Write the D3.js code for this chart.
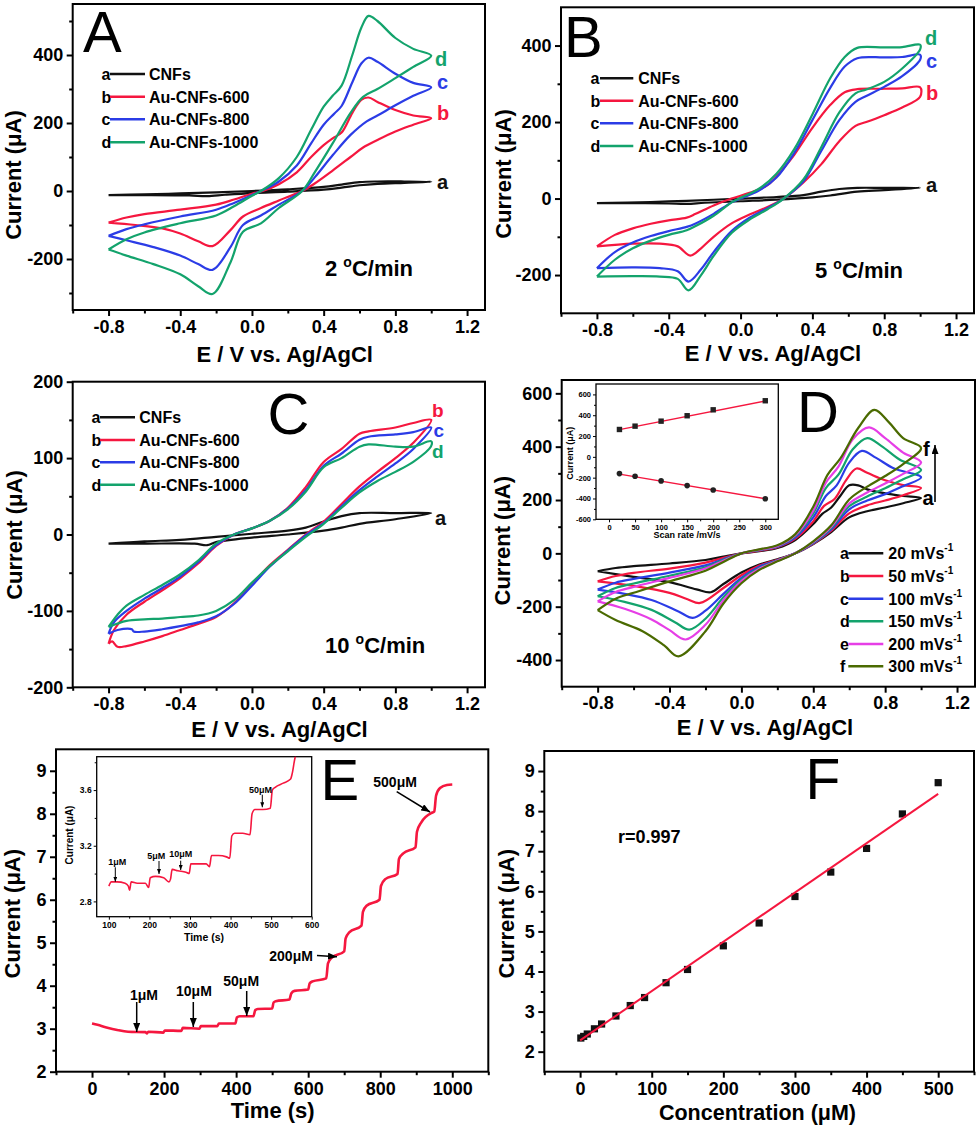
<!DOCTYPE html>
<html><head><meta charset="utf-8">
<script src="https://cdn.jsdelivr.net/npm/d3@7"></script>
<style>body{margin:0;background:#fff}svg{display:block}text{font-family:"Liberation Sans",Arial,sans-serif}</style>
</head><body><svg id="c" width="979" height="1129"></svg>
<script>
// ---------- DATA ----------
const cvLabels = ["a","b","c","d"];
const cvNames = ["CNFs","Au-CNFs-600","Au-CNFs-800","Au-CNFs-1000"];
const cvRates = ["2","5","10"];
const xTicksCV = [-0.8,-0.4,0.0,0.4,0.8,1.2];
const xMinorCV = [-1.0,-0.6,-0.2,0.2,0.6,1.0];

// Panel A (2 °C/min): [E, I] loops, forward then reverse
const cvA_CNFs = [[-0.8,-12],[-0.6,-10],[-0.4,-7],[-0.2,-4],[0,0],[0.2,5],[0.4,12],[0.5,19],[0.6,26],[0.7,28],[0.85,28],[1.0,27],[0.85,24],[0.7,21],[0.6,17],[0.5,10],[0.4,4],[0.2,-2],[0,-6],[-0.15,-11],[-0.25,-15],[-0.35,-13],[-0.6,-12],[-0.8,-12]];
const cvA_600 = [[-0.8,-93],[-0.7,-78],[-0.6,-68],[-0.4,-55],[-0.2,-40],[-0.1,-25],[0,-8],[0.06,0],[0.15,20],[0.25,55],[0.33,100],[0.4,135],[0.45,155],[0.5,172],[0.56,230],[0.61,268],[0.65,275],[0.7,262],[0.8,238],[0.9,222],[1.0,214],[0.9,195],[0.8,175],[0.7,150],[0.62,128],[0.55,100],[0.45,60],[0.35,22],[0.28,0],[0.15,-28],[0.05,-50],[-0.05,-75],[-0.12,-115],[-0.22,-162],[-0.3,-148],[-0.4,-125],[-0.5,-110],[-0.65,-100],[-0.8,-93]];
const cvA_800 = [[-0.8,-132],[-0.7,-112],[-0.6,-98],[-0.4,-75],[-0.2,-55],[-0.1,-35],[0,-12],[0.05,0],[0.15,28],[0.25,75],[0.33,140],[0.4,195],[0.46,228],[0.5,250],[0.56,320],[0.61,375],[0.65,392],[0.7,380],[0.8,345],[0.9,318],[1.0,305],[0.9,280],[0.8,252],[0.7,222],[0.64,205],[0.55,165],[0.45,105],[0.35,40],[0.28,0],[0.15,-40],[0.05,-72],[-0.05,-100],[-0.12,-165],[-0.22,-232],[-0.3,-215],[-0.4,-190],[-0.55,-165],[-0.7,-145],[-0.8,-132]];
const cvA_1000 = [[-0.8,-172],[-0.7,-142],[-0.6,-122],[-0.4,-95],[-0.2,-72],[-0.1,-45],[0,-14],[0.05,0],[0.15,38],[0.25,100],[0.33,180],[0.4,248],[0.45,280],[0.5,310],[0.56,400],[0.61,480],[0.65,515],[0.7,500],[0.8,450],[0.9,418],[1.0,398],[0.9,365],[0.8,332],[0.7,300],[0.62,277],[0.55,230],[0.45,140],[0.35,55],[0.28,0],[0.15,-50],[0.05,-95],[-0.05,-120],[-0.12,-210],[-0.22,-303],[-0.3,-280],[-0.4,-245],[-0.55,-215],[-0.7,-190],[-0.8,-172]];

// Panel B (5 °C/min)
const cvB_CNFs = [[-0.8,-12],[-0.5,-9],[-0.3,-6],[0,0],[0.2,4],[0.35,9],[0.45,18],[0.55,25],[0.65,28],[0.8,28],[1.0,28],[0.8,22],[0.65,18],[0.5,8],[0.4,3],[0.2,-3],[0,-7],[-0.2,-11],[-0.3,-14],[-0.4,-13],[-0.6,-12],[-0.8,-12]];
const cvB_600 = [[-0.8,-125],[-0.7,-95],[-0.6,-78],[-0.5,-66],[-0.4,-57],[-0.3,-50],[-0.25,-40],[-0.15,-18],[-0.05,0],[0.05,15],[0.15,35],[0.25,85],[0.3,115],[0.4,185],[0.5,245],[0.58,278],[0.65,286],[0.8,287],[0.9,288],[1.0,291],[1.0,266],[0.9,238],[0.8,218],[0.7,200],[0.64,190],[0.55,150],[0.45,90],[0.35,42],[0.24,0],[0.15,-22],[0.05,-42],[-0.05,-65],[-0.15,-100],[-0.22,-130],[-0.28,-149],[-0.35,-125],[-0.45,-118],[-0.6,-118],[-0.8,-125]];
const cvB_800 = [[-0.8,-182],[-0.7,-140],[-0.6,-115],[-0.5,-98],[-0.4,-85],[-0.3,-74],[-0.25,-65],[-0.15,-40],[-0.05,-10],[0,0],[0.1,20],[0.2,55],[0.3,120],[0.4,205],[0.5,290],[0.58,345],[0.65,367],[0.8,369],[0.9,370],[1.0,376],[1.0,363],[0.9,320],[0.8,292],[0.7,268],[0.64,253],[0.55,205],[0.45,125],[0.35,45],[0.24,0],[0.15,-25],[0.05,-50],[-0.05,-85],[-0.15,-140],[-0.22,-185],[-0.29,-217],[-0.35,-190],[-0.45,-182],[-0.6,-180],[-0.8,-182]];
const cvB_1000 = [[-0.8,-204],[-0.7,-160],[-0.6,-130],[-0.5,-110],[-0.4,-95],[-0.3,-83],[-0.25,-72],[-0.15,-45],[-0.05,-10],[0,2],[0.1,25],[0.2,65],[0.3,130],[0.4,220],[0.5,315],[0.58,370],[0.65,394],[0.8,395],[0.9,396],[1.0,402],[1.0,390],[0.9,340],[0.8,305],[0.7,285],[0.64,275],[0.55,225],[0.45,135],[0.35,50],[0.24,0],[0.15,-28],[0.05,-55],[-0.05,-90],[-0.15,-150],[-0.22,-200],[-0.29,-240],[-0.35,-210],[-0.45,-204],[-0.6,-203],[-0.8,-204]];

// Panel C (10 °C/min)
const cvC_CNFs = [[-0.8,-12],[-0.6,-9],[-0.4,-7],[-0.2,-3],[0,1],[0.2,5],[0.3,9],[0.4,17],[0.5,24],[0.6,28],[0.8,28],[1.0,28],[0.8,20],[0.6,14],[0.5,9],[0.4,5],[0.2,0],[0,-4],[-0.2,-10],[-0.25,-14],[-0.32,-12],[-0.6,-12],[-0.8,-12]];
const cvC_600 = [[-0.8,-143],[-0.77,-125],[-0.7,-105],[-0.6,-88],[-0.5,-73],[-0.4,-57],[-0.3,-38],[-0.2,-15],[-0.1,0],[0,8],[0.1,18],[0.2,35],[0.3,62],[0.4,95],[0.5,112],[0.6,132],[0.65,135],[0.8,140],[0.9,146],[1.0,150],[0.9,120],[0.8,100],[0.7,82],[0.6,63],[0.5,40],[0.4,17],[0.3,0],[0.2,-20],[0.1,-40],[0,-65],[-0.1,-90],[-0.2,-108],[-0.3,-117],[-0.4,-125],[-0.5,-133],[-0.6,-140],[-0.7,-146],[-0.75,-147],[-0.78,-140],[-0.8,-143]];
const cvC_800 = [[-0.8,-130],[-0.77,-115],[-0.7,-100],[-0.6,-84],[-0.5,-70],[-0.4,-55],[-0.3,-36],[-0.2,-14],[-0.1,0],[0,8],[0.1,18],[0.2,34],[0.3,58],[0.4,90],[0.5,106],[0.6,124],[0.65,128],[0.8,131],[0.9,134],[1.0,140],[0.9,112],[0.8,93],[0.7,76],[0.6,58],[0.5,37],[0.4,15],[0.3,-1],[0.2,-21],[0.1,-42],[0,-67],[-0.1,-91],[-0.2,-107],[-0.3,-115],[-0.4,-120],[-0.5,-124],[-0.6,-127],[-0.66,-127],[-0.67,-124],[-0.75,-125],[-0.8,-130]];
const cvC_1000 = [[-0.8,-121],[-0.75,-105],[-0.7,-93],[-0.6,-79],[-0.5,-66],[-0.4,-52],[-0.3,-34],[-0.2,-12],[-0.1,0],[0,8],[0.1,18],[0.2,33],[0.3,56],[0.4,88],[0.5,100],[0.6,115],[0.65,118],[0.8,115],[0.9,115],[1.0,122],[1.0,116],[0.9,95],[0.8,82],[0.7,70],[0.6,55],[0.5,35],[0.4,14],[0.3,-3],[0.2,-22],[0.1,-41],[0,-63],[-0.1,-86],[-0.2,-100],[-0.3,-106],[-0.4,-108],[-0.5,-110],[-0.6,-111],[-0.7,-113],[-0.8,-121]];

// Panel D (scan rates)
const dLabels = ["a","b","c","d","e","f"];
const dRates = ["20","50","100","150","200","300"];
const cvD_20 = [[-0.8,-67],[-0.7,-55],[-0.6,-48],[-0.4,-38],[-0.2,-25],[-0.1,-12],[0,0],[0.1,8],[0.2,20],[0.3,50],[0.4,110],[0.45,148],[0.5,172],[0.55,215],[0.6,255],[0.65,255],[0.7,240],[0.8,225],[0.9,215],[1.0,207],[0.9,188],[0.8,172],[0.7,158],[0.6,135],[0.5,80],[0.4,35],[0.3,0],[0.2,-22],[0.1,-42],[0,-72],[-0.1,-115],[-0.17,-146],[-0.25,-135],[-0.4,-108],[-0.6,-88],[-0.8,-67]];
const cvD_50 = [[-0.8,-105],[-0.7,-85],[-0.6,-73],[-0.4,-57],[-0.2,-35],[-0.1,-17],[0,0],[0.1,10],[0.2,23],[0.3,55],[0.4,120],[0.46,178],[0.52,205],[0.58,272],[0.64,318],[0.7,302],[0.8,274],[0.9,256],[1.0,245],[0.9,218],[0.8,198],[0.7,180],[0.6,150],[0.5,85],[0.4,36],[0.3,0],[0.2,-24],[0.1,-46],[0,-82],[-0.1,-130],[-0.23,-186],[-0.3,-172],[-0.4,-148],[-0.6,-122],[-0.8,-105]];
const cvD_100 = [[-0.8,-136],[-0.7,-110],[-0.6,-96],[-0.4,-72],[-0.2,-45],[-0.1,-22],[0,0],[0.1,12],[0.2,25],[0.3,60],[0.4,135],[0.47,215],[0.53,255],[0.6,340],[0.67,384],[0.75,358],[0.85,318],[1.0,285],[0.9,252],[0.8,222],[0.7,198],[0.6,165],[0.5,90],[0.4,38],[0.3,0],[0.2,-26],[0.1,-50],[0,-92],[-0.1,-152],[-0.2,-215],[-0.27,-242],[-0.35,-218],[-0.5,-175],[-0.65,-152],[-0.8,-136]];
const cvD_150 = [[-0.8,-161],[-0.7,-130],[-0.6,-113],[-0.4,-84],[-0.2,-52],[-0.1,-25],[0,0],[0.1,13],[0.2,27],[0.3,65],[0.4,150],[0.47,245],[0.54,295],[0.62,390],[0.7,432],[0.78,402],[0.88,352],[1.0,313],[0.9,278],[0.8,244],[0.7,213],[0.6,177],[0.5,95],[0.4,40],[0.3,0],[0.2,-27],[0.1,-55],[0,-98],[-0.1,-165],[-0.2,-245],[-0.29,-286],[-0.37,-258],[-0.5,-212],[-0.65,-182],[-0.8,-161]];
const cvD_200 = [[-0.8,-180],[-0.7,-145],[-0.6,-126],[-0.4,-92],[-0.2,-57],[-0.1,-28],[0,0],[0.1,14],[0.2,28],[0.3,68],[0.4,160],[0.47,265],[0.54,325],[0.62,428],[0.71,472],[0.8,432],[0.9,378],[1.0,341],[0.9,298],[0.8,262],[0.7,228],[0.6,187],[0.5,100],[0.4,42],[0.3,0],[0.2,-28],[0.1,-58],[0,-104],[-0.1,-176],[-0.2,-268],[-0.31,-323],[-0.4,-288],[-0.5,-248],[-0.65,-208],[-0.8,-180]];
const cvD_300 = [[-0.8,-213],[-0.7,-170],[-0.6,-148],[-0.4,-105],[-0.2,-65],[-0.1,-32],[0,0],[0.1,15],[0.2,30],[0.3,72],[0.4,175],[0.48,295],[0.55,355],[0.65,470],[0.74,538],[0.82,492],[0.9,432],[1.0,395],[0.9,335],[0.8,290],[0.7,250],[0.6,202],[0.5,105],[0.4,45],[0.3,0],[0.2,-30],[0.1,-62],[0,-112],[-0.1,-188],[-0.2,-292],[-0.35,-386],[-0.43,-345],[-0.55,-292],[-0.7,-250],[-0.8,-213]];

// Panel D inset: peak currents vs scan rate
const scanRate = [20,50,100,150,200,300];
const anodicPeak = [263,295,343,395,452,539];
const cathodicPeak = [-161,-187,-231,-276,-318,-402];
const fitRate = [20,300];
const anodicFit = [262,537];
const cathodicFit = [-165,-402];

// Panel E: amperometric response (time s, current µA)
const ampMain = [[0,3.12],[15,3.09],[40,3.03],[70,2.97],[100,2.93],[148,2.92],[152,2.89],[156,2.93],[198,2.91],[202,2.96],[248,2.95],[252,3.02],[298,3.00],[302,3.06],[348,3.06],[352,3.12],[398,3.12],[402,3.26],[410,3.29],[448,3.29],[453,3.43],[460,3.46],[500,3.47],[504,3.61],[510,3.64],[548,3.68],[553,3.82],[562,3.88],[600,3.91],[604,4.05],[612,4.10],[650,4.17],[655,4.52],[665,4.65],[700,4.80],[704,5.10],[714,5.24],[748,5.40],[752,5.72],[762,5.86],[798,6.00],[802,6.32],[814,6.48],[848,6.60],[852,6.95],[864,7.08],[898,7.22],[902,7.58],[914,7.80],[945,8.03],[950,8.05],[955,8.42],[966,8.60],[985,8.67],[1000,8.68]];
const ampInset = [[100,2.91],[106,2.94],[120,2.94],[140,2.93],[148,2.91],[151,2.88],[155,2.94],[170,2.93],[190,2.93],[198,2.90],[202,2.97],[215,2.98],[235,2.97],[248,2.94],[252,2.96],[256,3.03],[270,3.02],[290,3.01],[298,3.00],[302,3.07],[320,3.07],[340,3.07],[348,3.05],[353,3.13],[370,3.13],[390,3.12],[398,3.11],[403,3.27],[410,3.29],[430,3.29],[448,3.28],[453,3.43],[460,3.46],[480,3.46],[498,3.47],[503,3.60],[510,3.62],[530,3.65],[548,3.68],[552,3.72],[558,3.82],[563,3.88]];

// Panel F: calibration
const concentration = [1,5,10,20,30,50,70,90,120,150,200,250,300,350,400,450,500];
const calCurrent = [2.34,2.38,2.44,2.57,2.69,2.89,3.15,3.35,3.72,4.05,4.64,5.21,5.87,6.48,7.07,7.93,8.71];
const calFitX = [0,500];
const calFitY = [2.28,8.43];

// ---------- DRAWING ----------
const COL = {black:"#111111", red:"#f5173f", blue:"#2b3ce6", green:"#13a36c", magenta:"#e63ee6", olive:"#4a6a00"};
const cvColors = [COL.black, COL.red, COL.blue, COL.green];
const dColors = [COL.black, COL.red, COL.blue, COL.green, COL.magenta, COL.olive];
const svg = d3.select("#c");

const defs = svg.append("defs");
function marker(id, w, h){
  defs.append("marker").attr("id",id).attr("markerUnits","userSpaceOnUse")
    .attr("markerWidth",w).attr("markerHeight",h).attr("refX",w).attr("refY",h/2).attr("orient","auto")
    .append("path").attr("d",`M0,0L${w},${h/2}L0,${h}Z`).attr("fill","#000");
}
marker("ah",9,7); marker("ahs",5,4);

function panel(p){
  const x = d3.scaleLinear().domain(p.xd).range([p.l,p.r]);
  const y = d3.scaleLinear().domain(p.yd).range([p.b,p.t]);
  const g = svg.append("g");
  const ts=p.ts||6, ms=p.ms||3.5, sw=p.sw||2, fs=p.fs||18;
  g.append("rect").attr("x",p.l).attr("y",p.t).attr("width",p.r-p.l).attr("height",p.b-p.t)
    .attr("fill",p.fill||"none").attr("stroke","#000").attr("stroke-width",p.fw||2);
  const axes = [
    g.append("g").attr("transform",`translate(0,${p.b})`).call(d3.axisBottom(x).tickValues(p.xM).tickFormat(p.xf).tickSize(ts).tickSizeOuter(0).tickPadding(p.padx||4)),
    g.append("g").attr("transform",`translate(0,${p.b})`).call(d3.axisBottom(x).tickValues(p.xm).tickFormat("").tickSize(ms).tickSizeOuter(0)),
    g.append("g").attr("transform",`translate(${p.l},0)`).call(d3.axisLeft(y).tickValues(p.yM).tickFormat(p.yf).tickSize(ts).tickSizeOuter(0).tickPadding(p.pady||3.5)),
    g.append("g").attr("transform",`translate(${p.l},0)`).call(d3.axisLeft(y).tickValues(p.ym).tickFormat("").tickSize(ms).tickSizeOuter(0))
  ];
  axes.forEach(a=>{
    a.select(".domain").remove();
    a.selectAll("line").attr("stroke","#000").attr("stroke-width",sw);
    a.selectAll("text").attr("font-size",fs).attr("font-weight","bold").attr("fill","#000");
  });
  return {g,x,y};
}
function txt(g,x,y,s,o={}){
  return g.append("text").attr("x",x).attr("y",y).text(s)
    .attr("font-size",o.fs||16).attr("font-weight",o.fw||"bold").attr("fill",o.fill||"#000")
    .attr("text-anchor",o.anchor||"start");
}
function ylab(g,x,y,s,fs){
  g.append("text").attr("transform",`translate(${x},${y}) rotate(-90)`).attr("text-anchor","middle")
    .attr("font-size",fs).attr("font-weight","bold").text(s);
}
function rateText(g,x,y,num){
  const t = g.append("text").attr("x",x).attr("y",y).attr("font-size",22).attr("font-weight","bold");
  t.append("tspan").text(num+" ");
  t.append("tspan").attr("font-size",14).attr("dy",-9).text("o");
  t.append("tspan").attr("dy",9).text("C/min");
}
const fmt1 = d=>d.toFixed(1), fmtI = d=>String(d);

function cvPanel(c){
  const P = panel({l:c.l,r:c.r,t:c.t,b:c.b,xd:[-1.0,1.3],yd:c.yd,xM:xTicksCV,xm:xMinorCV,yM:c.yM,ym:c.ym,xf:fmt1,yf:fmtI});
  const line = d3.line().x(d=>P.x(d[0])).y(d=>P.y(d[1])).curve(d3.curveCatmullRom.alpha(0.5));
  c.curves.forEach((cv,i)=>{
    P.g.append("path").attr("d",line(cv)).attr("fill","none").attr("stroke",c.colors[i]).attr("stroke-width",2.2).attr("stroke-linejoin","round");
  });
  txt(P.g,c.xlx,c.xly,"E / V vs. Ag/AgCl",{fs:22,anchor:"middle"});
  ylab(P.g,c.ylx,c.yly,"Current (\u03bcA)",22);
  txt(P.g,c.Lx,c.Ly,c.letter,{fs:58,fw:"normal"});
  return P;
}

// ---- Panel A ----
const PA = cvPanel({l:72.7,r:485,t:4,b:310,yd:[-350,550],yM:[-200,0,200,400],ym:[-300,-100,100,300,500],
  curves:[cvA_CNFs,cvA_600,cvA_800,cvA_1000],colors:cvColors,
  xlx:284.7,xly:361.7,ylx:21,yly:175,letter:"A",Lx:83,Ly:51.7});
// ---- Panel B ----
const PB = cvPanel({l:561,r:974,t:7.3,b:313.3,yd:[-300,500],yM:[-200,0,200,400],ym:[-100,100,300],
  curves:[cvB_CNFs,cvB_600,cvB_800,cvB_1000],colors:cvColors,
  xlx:773,xly:360.7,ylx:511,yly:174,letter:"B",Lx:564,Ly:56.7});
// ---- Panel C ----
const PC = cvPanel({l:72.7,r:485,t:381.7,b:687.3,yd:[-200,200],yM:[-200,-100,0,100,200],ym:[-150,-50,50,150],
  curves:[cvC_CNFs,cvC_600,cvC_800,cvC_1000],colors:cvColors,
  xlx:279.5,xly:736.7,ylx:21.7,yly:535,letter:"C",Lx:267.5,Ly:434});
// ---- Panel D ----
const PD = cvPanel({l:561.7,r:975,t:380,b:686.7,yd:[-500,650],yM:[-400,-200,0,200,400,600],ym:[-300,-100,100,300,500],
  curves:[cvD_20,cvD_50,cvD_100,cvD_150,cvD_200,cvD_300],colors:dColors,
  xlx:765,xly:735,ylx:510.3,yly:540.7,letter:"D",Lx:797,Ly:431.7});

// legends A-C
function cvLegend(P,lx,linex0,linex1,tx,ys){
  cvLabels.forEach((lab,i)=>{
    const yc = ys[i];
    txt(P.g,lx,yc+5.8,lab,{fs:16});
    P.g.append("line").attr("x1",linex0).attr("x2",linex1).attr("y1",yc).attr("y2",yc).attr("stroke",cvColors[i]).attr("stroke-width",2.5);
    txt(P.g,tx,yc+5.8,cvNames[i],{fs:16});
  });
}
cvLegend(PA,101.5,110,145,149,[74,96.7,119.3,142.3]);
cvLegend(PB,590.5,600,633.3,638.3,[78.3,100.7,123.3,146]);
cvLegend(PC,91.5,100,135,139.3,[417.3,440,462.3,484.7]);

// end labels
function endLabels(P,items){
  items.forEach(it=>txt(P.g,it[0],it[1],it[2],{fs:it[4]||20,fill:it[3]}));
}
endLabels(PA,[[435,66,"d",COL.green],[437,88.5,"c",COL.blue],[437,120,"b",COL.red],[437,188.5,"a",COL.black]]);
endLabels(PB,[[925,45,"d",COL.green],[926,67.5,"c",COL.blue],[926,99.5,"b",COL.red],[926,191.5,"a",COL.black]]);
endLabels(PC,[[432,416.5,"b",COL.red,19],[433.5,437,"c",COL.blue,19],[432,457.5,"d",COL.green,19],[435,524.5,"a",COL.black]]);
rateText(PA.g,325,276,cvRates[0]);
rateText(PB.g,815,278.3,cvRates[1]);
rateText(PC.g,325,652.7,cvRates[2]);

// D legend
dLabels.forEach((lab,i)=>{
  const yc = [553.3,576,598.7,621.3,644,666.3][i];
  txt(PD.g,840,yc+5.8,lab,{fs:16});
  PD.g.append("line").attr("x1",848.3).attr("x2",883.3).attr("y1",yc).attr("y2",yc).attr("stroke",dColors[i]).attr("stroke-width",2.5);
  const t = txt(PD.g,888.3,yc+5.8,dRates[i]+" mVs",{fs:16});
  t.append("tspan").attr("font-size",10).attr("dy",-8).text("-1");
});
txt(PD.g,923,456,"f",{fs:20});
txt(PD.g,922.5,505,"a",{fs:20});
PD.g.append("line").attr("x1",935).attr("x2",935).attr("y1",502).attr("y2",445).attr("stroke","#000").attr("stroke-width",1.6).attr("marker-end","url(#ah)");

// D inset
const PDi = panel({l:596,r:778.3,t:384,b:519.3,xd:[-25,325],yd:[-600,700],xM:[0,50,100,150,200,250,300],xm:[25,75,125,175,225,275],
  yM:[-600,-400,-200,0,200,400,600],ym:[-500,-300,-100,100,300,500],xf:fmtI,yf:fmtI,fs:7.5,ts:3,ms:2,sw:1,fw:1.3,padx:2.5,pady:2,fill:"#fff"});
{
  const x=PDi.x, y=PDi.y, g=PDi.g;
  const ln = d3.line().x(d=>x(d[0])).y(d=>y(d[1]));
  g.append("path").attr("d",ln(fitRate.map((r,i)=>[r,anodicFit[i]]))).attr("stroke",COL.red).attr("stroke-width",1.3).attr("fill","none");
  g.append("path").attr("d",ln(fitRate.map((r,i)=>[r,cathodicFit[i]]))).attr("stroke",COL.red).attr("stroke-width",1.3).attr("fill","none");
  g.selectAll(".sq").data(scanRate).enter().append("rect").attr("x",(d)=>x(d)-2.7).attr("y",(d,i)=>y(anodicPeak[i])-2.7).attr("width",5.4).attr("height",5.4).attr("fill","#222");
  g.selectAll(".ci").data(scanRate).enter().append("circle").attr("cx",d=>x(d)).attr("cy",(d,i)=>y(cathodicPeak[i])).attr("r",2.8).attr("fill","#222");
  txt(g,687,538.3,"Scan rate /mV/s",{fs:9,anchor:"middle"});
  ylab(g,572.5,453.3,"Current (\u03bcA)",9);
}

// ---- Panel E ----
const PE = panel({l:56,r:488.3,t:749.3,b:1071.7,xd:[-100,1100],yd:[2,9.5],xM:[0,200,400,600,800,1000],xm:[-100,100,300,500,700,900,1100],
  yM:[2,3,4,5,6,7,8,9],ym:[2.5,3.5,4.5,5.5,6.5,7.5,8.5],xf:d3.format("d"),yf:fmtI,padx:5});
{
  const x=PE.x,y=PE.y,g=PE.g;
  const ln = d3.line().x(d=>x(d[0])).y(d=>y(d[1])).curve(d3.curveMonotoneX);
  g.append("path").attr("d",ln(ampMain)).attr("fill","none").attr("stroke",COL.red).attr("stroke-width",2.6);
  txt(g,272.7,1118.3,"Time (s)",{fs:22,anchor:"middle"});
  ylab(g,19.5,913.7,"Current (\u03bcA)",22);
  txt(g,320.5,800,"E",{fs:58,fw:"normal"});
  const ann = [[130,1000,"1\u03bcM",[136.7,1002,136.7,1032]],[176,996,"10\u03bcM",[193.3,1002,193.3,1027]],[223.3,985.7,"50\u03bcM",[246.7,991,246.7,1016]],
               [269.3,960.7,"200\u03bcM",[317,955.5,337,956.7]],[373.3,786.7,"500\u03bcM",[396.7,791.7,430,812]]];
  ann.forEach(a=>{
    txt(g,a[0],a[1],a[2],{fs:14});
    g.append("line").attr("x1",a[3][0]).attr("y1",a[3][1]).attr("x2",a[3][2]).attr("y2",a[3][3]).attr("stroke","#000").attr("stroke-width",1.5).attr("marker-end","url(#ah)");
  });
}
// E inset
const PEi = panel({l:96.7,r:311.7,t:756.7,b:916.7,xd:[70,600],yd:[2.69,3.84],xM:[100,200,300,400,500,600],xm:[150,250,350,450,550],
  yM:[2.8,3.2,3.6],ym:[3.0,3.4,3.8],xf:d3.format("d"),yf:fmt1,fs:8.5,ts:3,ms:2,sw:1,fw:1.3,padx:2.5,pady:2,fill:"#fff"});
{
  const x=PEi.x,y=PEi.y,g=PEi.g;
  defs.append("clipPath").attr("id","cpE").append("rect").attr("x",96.7).attr("y",756.7).attr("width",215).attr("height",160);
  const ln = d3.line().x(d=>x(d[0])).y(d=>y(d[1])).curve(d3.curveMonotoneX);
  g.append("path").attr("d",ln(ampInset)).attr("fill","none").attr("stroke",COL.red).attr("stroke-width",1.6).attr("clip-path","url(#cpE)");
  txt(g,204,941,"Time (s)",{fs:10.5,anchor:"middle"});
  ylab(g,73,835,"Current (\u03bcA)",10);
  const ann = [[108.3,865,"1\u03bcM",[115.3,867.3,115.3,881.7]],[147.3,859.3,"5\u03bcM",[159,861,159,874]],[169.3,857.3,"10\u03bcM",[180.7,860.7,180.7,870]],[249,792.7,"50\u03bcM",[262.3,794.7,262.3,807.3]]];
  ann.forEach(a=>{
    txt(g,a[0],a[1],a[2],{fs:9});
    g.append("line").attr("x1",a[3][0]).attr("y1",a[3][1]).attr("x2",a[3][2]).attr("y2",a[3][3]).attr("stroke","#000").attr("stroke-width",1).attr("marker-end","url(#ahs)");
  });
}

// ---- Panel F ----
const PF = panel({l:544.3,r:974,t:751,b:1071.7,xd:[-50,550],yd:[1.5,9.5],xM:[0,100,200,300,400,500],xm:[-50,50,150,250,350,450,550],
  yM:[2,3,4,5,6,7,8,9],ym:[2.5,3.5,4.5,5.5,6.5,7.5,8.5],xf:d3.format("d"),yf:fmtI,padx:5});
{
  const x=PF.x,y=PF.y,g=PF.g;
  g.selectAll(".pt").data(concentration).enter().append("rect")
    .attr("x",d=>x(d)-3.6).attr("y",(d,i)=>y(calCurrent[i])-3.6).attr("width",7.2).attr("height",7.2).attr("fill","#111");
  const ln = d3.line().x(d=>x(d[0])).y(d=>y(d[1]));
  g.append("path").attr("d",ln(calFitX.map((v,i)=>[v,calFitY[i]]))).attr("stroke",COL.red).attr("stroke-width",2).attr("fill","none");
  txt(g,618,843,"r=0.997",{fs:18});
  txt(g,757.5,1120,"Concentration (\u03bcM)",{fs:21.5,anchor:"middle"});
  ylab(g,513.5,913.7,"Current (\u03bcA)",22);
  txt(g,805.5,799.3,"F",{fs:57,fw:"normal"});
}
</script></body></html>
